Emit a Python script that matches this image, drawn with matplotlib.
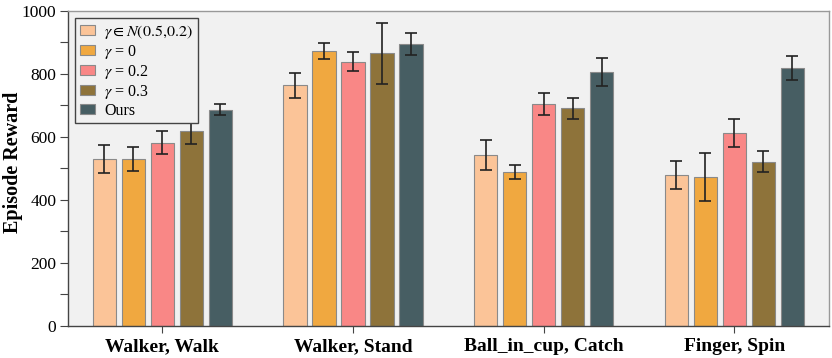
import matplotlib
matplotlib.use("Agg")
import matplotlib.pyplot as plt
import numpy as np
from matplotlib.ticker import MultipleLocator

plt.rcParams['font.family'] = ['Liberation Serif', 'DejaVu Serif']
plt.rcParams['mathtext.fontset'] = 'stix'

tasks = ["Walker, Walk", "Walker, Stand", "Ball_in_cup, Catch", "Finger, Spin"]
series = [r"$\gamma \in N(0.5{,}0.2)$ ", r"$\gamma$ = 0", r"$\gamma$ = 0.2", r"$\gamma$ = 0.3", "Ours"]
means = [
    [530, 764, 543, 480],
    [530, 874, 489, 474],
    [582, 839, 705, 613],
    [618, 866, 691, 522],
    [687, 895, 806, 819],
]
errs = [
    [45, 39, 48, 45],
    [37, 25, 22, 76],
    [36, 31, 36, 44],
    [40, 97, 34, 32],
    [18, 35, 44, 38],
]
colors = ["#FBC498", "#F0A840", "#F98786", "#8E733A", "#475E63"]

fig = plt.figure(figsize=(8.32, 3.58), dpi=100)
ax = fig.add_axes([0.0817, 0.0894, 0.9145, 0.8799])
ax.set_facecolor("#F1F1F1")

x = np.arange(len(tasks))
pitch = 0.152
width = 0.122
for i, (m, e, c, lab) in enumerate(zip(means, errs, colors, series)):
    ax.bar(x + (i - 2) * pitch, m, width, yerr=e, color=c, edgecolor="#8a8a8a",
           linewidth=0.8, label=lab,
           error_kw=dict(ecolor="#222222", elinewidth=1.2, capsize=4.5, capthick=1.2))

ax.set_xlim(-0.495, 3.496)
ax.set_ylim(0, 1000)
ax.set_xticks(x)
ax.set_xticklabels(tasks, fontsize=14, fontweight="bold")
ax.yaxis.set_major_locator(MultipleLocator(200))
ax.yaxis.set_minor_locator(MultipleLocator(100))
ax.tick_params(axis="y", which="both", direction="out", length=6, width=0.8, labelsize=12.5, color="#444444", pad=2.5)
ax.tick_params(axis="x", direction="out", length=5, width=0.8, color="#444444", pad=4)
ax.set_ylabel("Episode Reward", fontsize=14.5, fontweight="bold")
ax.yaxis.set_label_coords(-0.059, 0.52)

for s in ["left", "bottom"]:
    ax.spines[s].set_color("#444444")
    ax.spines[s].set_linewidth(1.0)
for s in ["top", "right"]:
    ax.spines[s].set_color("#999999")
    ax.spines[s].set_linewidth(1.0)

leg = ax.legend(loc="upper left", fontsize=11.5, frameon=True, fancybox=False,
                edgecolor="#444444", facecolor="#F1F1F1", framealpha=1,
                handlelength=0.95, handleheight=0.6, labelspacing=0.12,
                borderaxespad=0.45, borderpad=0.3, handletextpad=0.55)
leg.get_frame().set_linewidth(1.0)

fig.savefig("out.png", dpi=100)
